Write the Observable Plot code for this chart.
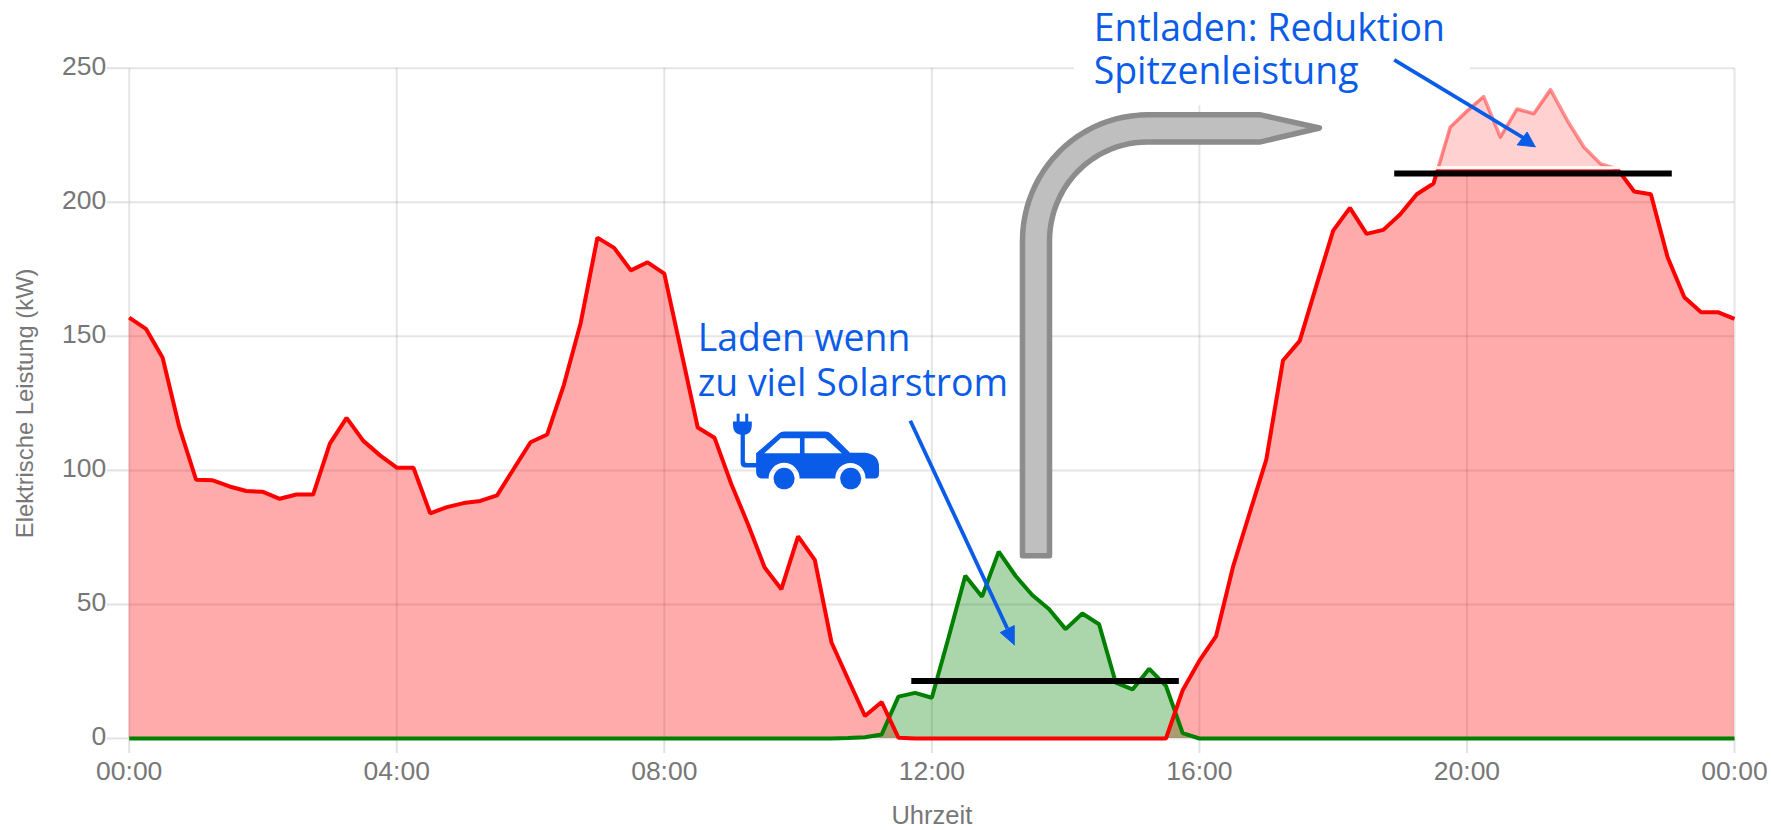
<!DOCTYPE html>
<html><head><meta charset="utf-8">
<script src="https://cdn.jsdelivr.net/npm/d3@7"></script>
<script src="https://cdn.jsdelivr.net/npm/@observablehq/plot@0.6"></script>
<style>html,body{margin:0;padding:0;background:#fff}svg{display:block}</style>
</head><body><div id="chart"></div>
<script>
// Werte im 15-Minuten-Raster (kW)
const netzbezug = [157,152.8,142,116,96.5,96.3,94,92.3,92,89.4,91,91,110,119.6,111,105.6,
  101,101,84,86.3,87.8,88.6,90.7,100.6,110.5,113.4,132,155,186.8,183,174.6,177.6,
  173.4,144.7,116,112.2,95,80,63.8,55.7,75.4,66.6,35.8,22,8.4,13.6,0.3,0,
  0,0,0,0,0,0,0,0,0,0,0,0,0,0,0,18,
  29,38.2,63.8,84,104,141,148.3,169,189.4,197.9,188.2,189.7,195.4,203,207,228,
  234,239.4,224.3,234.8,233,242,230.5,220.5,214.3,212.4,204,203,179.5,164.6,159,159,156.5];
const einspeisung = [0,0,0,0,0,0,0,0,0,0,0,0,0,0,0,0,
  0,0,0,0,0,0,0,0,0,0,0,0,0,0,0,0,
  0,0,0,0,0,0,0,0,0,0,0,0.2,0.5,1.5,15.6,17,
  15.2,37.7,60.7,52.9,69.7,60.7,53.5,48.3,40.8,46.6,42.6,20.8,18.3,26,19.6,2,
  0,0,0,0,0,0,0,0,0,0,0,0,0,0,0,0,
  0,0,0,0,0,0,0,0,0,0,0,0,0,0,0,0,0];
const spitzenGrenze = 211.5;
const ladeGrenze = 21.4;
const xTicks = [0,4,8,12,16,20,24];
const yTicks = [0,50,100,150,200,250];
const stufe = 0.25;

const rot = "#ff0000", gruen = "#008000", blau = "#0a5ce8";
const gitter = "#000";

// Tabelle mit eingefuegten Schnittpunkten an der Spitzengrenze
const tabelle = [];
netzbezug.forEach((v, i) => {
  const h = i * stufe;
  if (i > 0) {
    const p = netzbezug[i - 1];
    if ((p - spitzenGrenze) * (v - spitzenGrenze) < 0) {
      tabelle.push({h: h - stufe + stufe * (spitzenGrenze - p) / (v - p), v: spitzenGrenze});
    }
  }
  tabelle.push({h, v});
});
const gruenTabelle = einspeisung.map((v, i) => ({h: i * stufe, v}));
const schnitt = tabelle.filter(d => d.v === spitzenGrenze).map(d => d.h);
const ueber = tabelle.filter(d => d.v >= spitzenGrenze);

// Anmerkungen in Achseneinheiten (Stunde, kW)
const balken = [
  {x1: 11.70, x2: 15.70, y: ladeGrenze},
  {x1: 18.92, x2: 23.07, y: 210.7}
];
const oben = [{x1: 0, x2: 14.13}, {x1: 20.05, x2: 24}];
const vertikal = [
  {x: 0, y2: 250}, {x: 4, y2: 250}, {x: 8, y2: 250}, {x: 12, y2: 250},
  {x: 16, y2: 236}, {x: 20, y2: 212}, {x: 24, y2: 250}
];
const pfeilLinien = [
  {x1: 11.678, y1: 118.5, x2: 13.128, y2: 41},
  {x1: 18.913, y1: 253.1, x2: 20.872, y2: 223.6}
];
const pfeilKoepfe = [
  [[13.232,35.0],[13.023,39.5],[13.232,42.1]],
  [[21.02,220.7],[20.751,221.4],[20.9,226.2]]
];
const bogenMitte = [15.224, 185.6];
const bogenAussen = [1.869, 47];
const bogenInnen = [1.465, 36.9];
const winkel = d3.range(0, 1.0001, 1 / 24).map(t => t * Math.PI / 2);
const grauPfeil = [
  [13.355, 68.2],
  ...winkel.map(a => [bogenMitte[0] - bogenAussen[0] * Math.cos(a), bogenMitte[1] + bogenAussen[1] * Math.sin(a)]),
  [16.913, 232.6], [17.795, 227.7], [16.913, 222.5],
  ...winkel.slice().reverse().map(a => [bogenMitte[0] - bogenInnen[0] * Math.cos(a), bogenMitte[1] + bogenInnen[1] * Math.sin(a)]),
  [13.759, 68.2], [13.355, 68.2]
];
const texte = [
  {x: 14.42, y: 260.2, t: "Entladen: Reduktion"},
  {x: 14.42, y: 244.2, t: "Spitzenleistung"},
  {x: 8.50, y: 144.5, t: "Laden wenn"},
  {x: 8.50, y: 127.8, t: "zu viel Solarstrom"}
];
const autoSvg = `<svg xmlns="http://www.w3.org/2000/svg" viewBox="90 30 455 235" preserveAspectRatio="none">
<g fill="${blau}">
<path d="M165,155 L235,95 Q240,90 250,90 L375,90 Q385,90 392,97 L450,153 L495,153 Q538,158 538,195 L538,215 Q538,230 525,230 L497,230 A46,46 0 0 0 405,230 L297,230 A46,46 0 0 0 203,230 L180,230 Q165,228 165,210 Z"/>
<circle cx="250" cy="230" r="32"/><circle cx="452" cy="230" r="32"/>
<rect x="106" y="37" width="9" height="26"/><rect x="132" y="37" width="9" height="26"/>
<path d="M95,60 H152 V72 Q152,96 131,100 V178 Q131,184 137,184 H170 V197 H133 Q118,197 118,182 V100 Q95,96 95,72 Z"/>
</g>
<path fill="#fff" d="M190,155 L240,110 L298,110 L298,155 Z M312,110 L375,110 L425,155 L312,155 Z"/>
</svg>`;
const autoSrc = "data:image/svg+xml;charset=utf-8," + encodeURIComponent(autoSvg);
const achsenFarbe = "#777";

const plot = Plot.plot({
  width: 1771, height: 830,
  marginLeft: 128.7, marginRight: 37, marginTop: 67.7, marginBottom: 92,
  style: {fontFamily: "'Liberation Sans', Arial, sans-serif", background: "#fff"},
  x: {domain: [0, 24], ticks: xTicks},
  y: {domain: [0, 250], ticks: yTicks},
  marks: [
    // Gitter
    Plot.ruleY(yTicks.slice(0, 5), {stroke: gitter, strokeOpacity: 0.1, strokeWidth: 2}),
    Plot.ruleY(oben, {y: () => 250, x1: "x1", x2: "x2", stroke: gitter, strokeOpacity: 0.1, strokeWidth: 2}),
    Plot.ruleX(vertikal, {x: "x", y1: () => 0, y2: "y2", stroke: gitter, strokeOpacity: 0.1, strokeWidth: 2}),
    Plot.axisY({ticks: yTicks, tickSize: 22, text: null, label: null, stroke: "#e2e2e2", strokeWidth: 2}),
    Plot.axisY({ticks: yTicks, tickSize: 0, tickPadding: 23, fontSize: 26.5, fill: achsenFarbe, dy: -2, label: null}),
    Plot.axisX({
      ticks: xTicks, tickSize: 15, tickPadding: 8, fontSize: 26.5, stroke: "#e2e2e2", strokeWidth: 2, fill: achsenFarbe,
      tickFormat: h => String(h % 24).padStart(2, "0") + ":00", label: null
    }),
    Plot.text(["Elektrische Leistung (kW)"], {frameAnchor: "left", textAnchor: "middle", lineAnchor: "middle", dx: -104, rotate: -90, fontSize: 23.8, fill: achsenFarbe, text: d => d}),
    Plot.text(["Uhrzeit"], {frameAnchor: "bottom", textAnchor: "middle", lineAnchor: "middle", dy: 77.5, fontSize: 25.5, fill: achsenFarbe, text: d => d}),
    // Gekappte Spitze
    Plot.areaY(ueber, {x: "h", y1: () => spitzenGrenze, y2: "v", fill: rot, fillOpacity: 0.18}),
    Plot.line(ueber, {x: "h", y: "v", stroke: rot, strokeOpacity: 0.42, strokeWidth: 3.6}),
    // Netzbezug, Einspeisung
    Plot.areaY(tabelle, {x: "h", y1: () => 0, y2: d => Math.min(d.v, spitzenGrenze), fill: rot, fillOpacity: 0.33}),
    Plot.areaY(gruenTabelle, {x: "h", y1: () => 0, y2: "v", fill: gruen, fillOpacity: 0.33}),
    Plot.line(gruenTabelle, {x: "h", y: "v", stroke: gruen, strokeWidth: 4, strokeLinejoin: "miter", strokeLinecap: "butt"}),
    Plot.line(tabelle, {x: "h", y: d => Math.min(d.v, spitzenGrenze), stroke: rot, strokeWidth: 4, strokeLinejoin: "miter", strokeLinecap: "butt"}),
    // Grenzlinien
    Plot.ruleY([212.9], {x1: () => schnitt[0], x2: () => schnitt[1], stroke: "#fff", strokeWidth: 2.7}),
    Plot.ruleY(balken, {x1: "x1", x2: "x2", y: "y", stroke: "#000", strokeWidth: 6}),
    // Grauer Pfeil
    Plot.line(grauPfeil, {x: "0", y: "1", fill: "#bfbfbf", stroke: "#8c8c8c", strokeWidth: 5.5, strokeLinejoin: "round"}),
    // Blaue Pfeile
    Plot.link(pfeilLinien, {x1: "x1", y1: "y1", x2: "x2", y2: "y2", stroke: blau, strokeWidth: 3.8}),
    ...pfeilKoepfe.map(k => Plot.line([...k, k[0]], {x: "0", y: "1", fill: blau, stroke: blau, strokeWidth: 1})),
    // Auto
    Plot.image([{x: 10.124, y: 107.3}], {x: "x", y: "y", width: 150, height: 79, src: () => autoSrc, preserveAspectRatio: "none"}),
    // Texte
    Plot.text(texte, {x: "x", y: "y", text: "t", textAnchor: "start", lineAnchor: "bottom", fill: blau, fontSize: 37.4, fontFamily: "'Open Sans', sans-serif"})
  ]
});
document.getElementById("chart").appendChild(plot);
</script></body></html>
